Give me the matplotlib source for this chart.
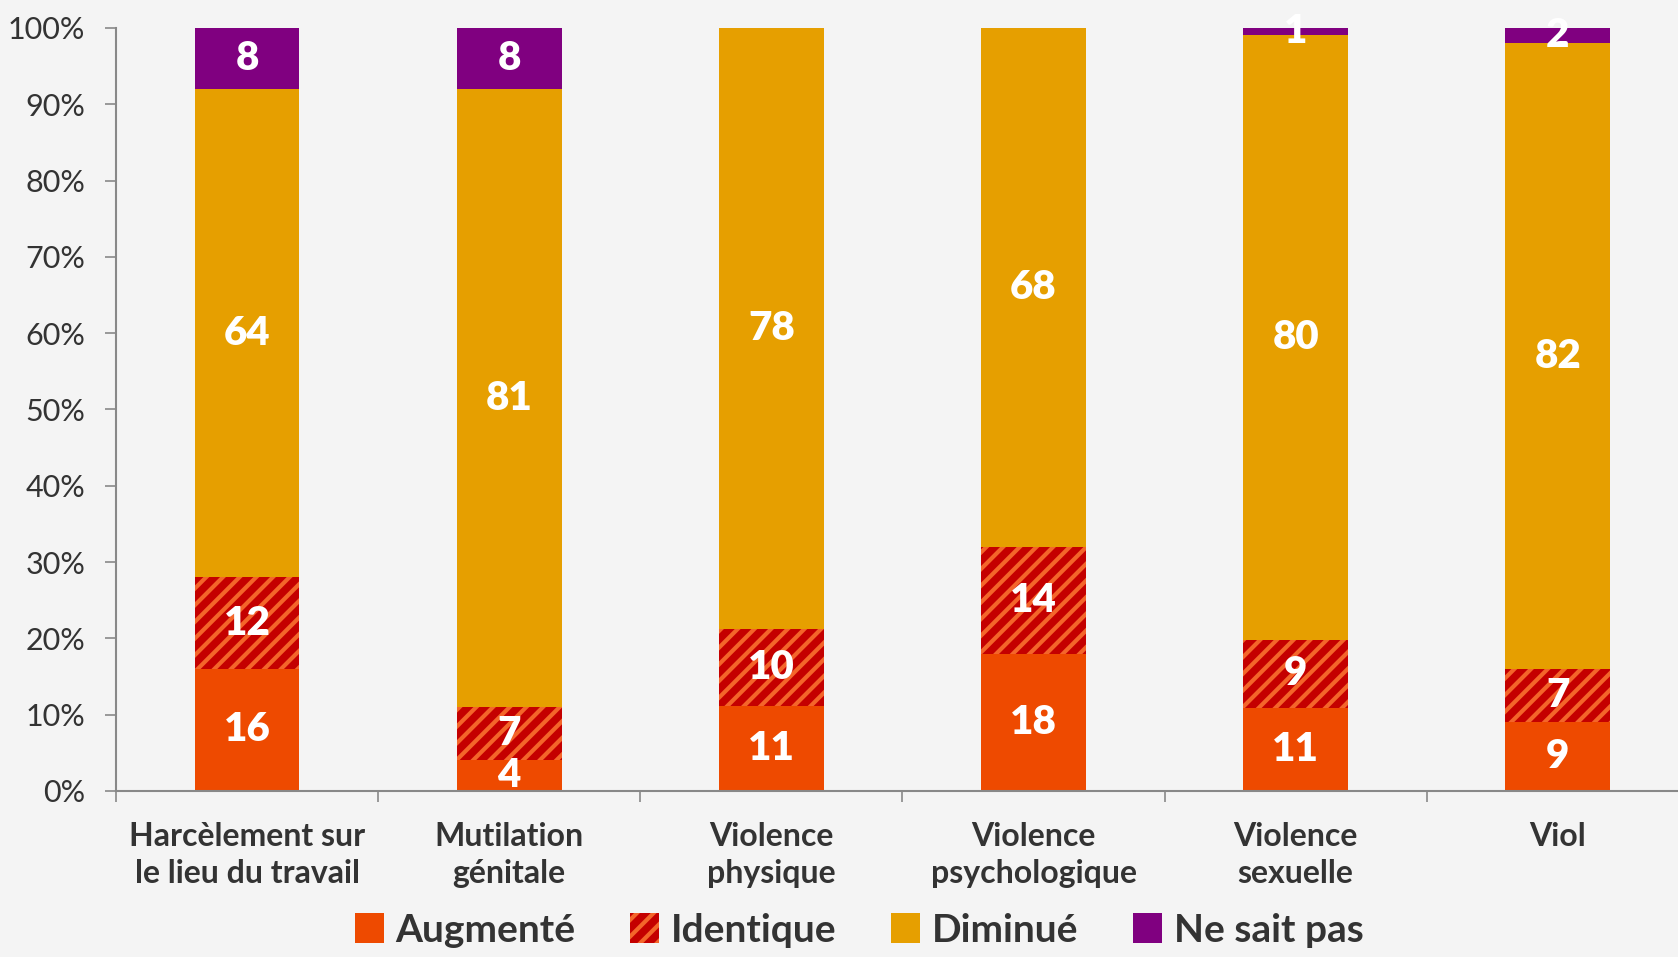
import matplotlib.pyplot as plt
import numpy as np

plt.rcParams['font.family'] = ['Lato', 'DejaVu Sans']
plt.rcParams['hatch.linewidth'] = 3.0

categories = ['Harcèlement sur\nle lieu du travail', 'Mutilation\ngénitale', 'Violence\nphysique',
              'Violence\npsychologique', 'Violence\nsexuelle', 'Viol']
augmente = [16, 4, 11, 18, 11, 9]
identique = [12, 7, 10, 14, 9, 7]
diminue = [64, 81, 78, 68, 80, 82]
ne_sait_pas = [8, 8, 0, 0, 1, 2]

series = [
    ('Augmenté', augmente, dict(color='#EE4A00')),
    ('Identique', identique, dict(facecolor='#C40000', edgecolor='#F4652A', hatch='//', linewidth=0)),
    ('Diminué', diminue, dict(color='#E69F00')),
    ('Ne sait pas', ne_sait_pas, dict(color='#800080')),
]

totals = np.sum([s[1] for s in series], axis=0)

fig = plt.figure(figsize=(16.78, 9.57), dpi=100)
fig.patch.set_facecolor('#F4F4F4')
ax = fig.add_axes([0.0691, 0.1735, 0.9374, 0.7973])
ax.set_facecolor('#F4F4F4')

x = np.arange(len(categories))
bottom = np.zeros(len(categories))
for name, vals, style in series:
    vals = np.array(vals, dtype=float)
    frac = vals / totals
    bars = ax.bar(x, frac, 0.4, bottom=bottom, label=name, **style)
    labels = [str(int(v)) if v > 0 else '' for v in vals]
    ax.bar_label(bars, labels=labels, label_type='center', color='white',
                 fontsize=29, fontweight='heavy')
    bottom += frac

ax.set_xlim(-0.5, len(categories) - 0.5)
ax.set_ylim(0, 1)
ax.set_yticks(np.arange(0, 1.01, 0.1))
ax.set_yticklabels([f'{int(round(t * 100))}%' for t in np.arange(0, 1.01, 0.1)])
ax.tick_params(axis='y', length=8, width=1.2, color='#888888', pad=14,
               labelsize=22, labelcolor='#333333')

ax.set_xticks(x)
ax.set_xticklabels(categories, fontsize=23, fontweight='bold', color='#333333',
                   linespacing=1.35)
ax.tick_params(axis='x', which='major', length=0, pad=22)
ax.set_xticks(np.arange(-0.5, len(categories), 1), minor=True)
ax.tick_params(axis='x', which='minor', length=8, width=1.2, color='#888888')

for side in ['top', 'right']:
    ax.spines[side].set_visible(False)
for side in ['left', 'bottom']:
    ax.spines[side].set_color('#888888')
    ax.spines[side].set_linewidth(1.5)

fig.legend(loc='center', bbox_to_anchor=(0.512, 0.028), ncol=4, frameon=False,
           handlelength=0.75, handleheight=0.8, handletextpad=0.3,
           columnspacing=1.4, labelcolor='#333333',
           prop={'weight': 'bold', 'size': 28})

fig.savefig('out.png', dpi=100, facecolor=fig.get_facecolor())
